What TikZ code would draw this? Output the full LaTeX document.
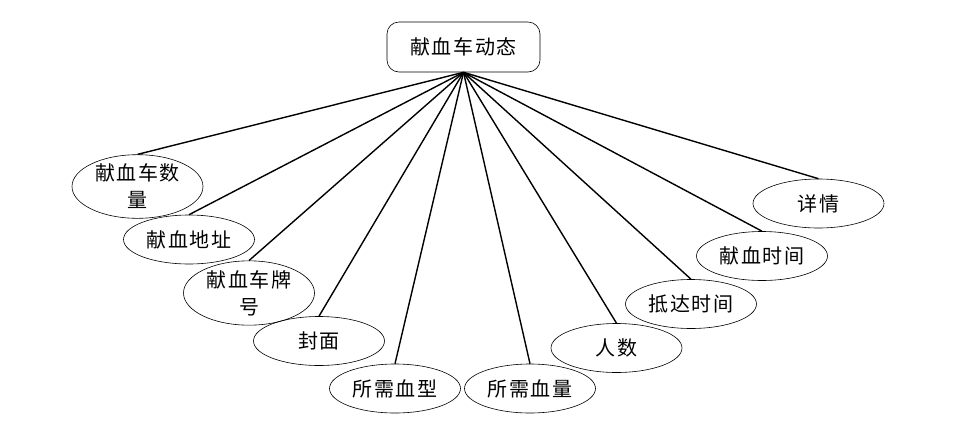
\documentclass[tikz,border=0pt]{standalone}
\usepackage{fontspec}
\newfontfamily\cjk{Noto Sans CJK SC}[LetterSpace=8]
\usetikzlibrary{shapes.geometric}

\begin{document}
\begin{tikzpicture}[x=1pt,y=-1pt,
    topbox/.style={draw,rounded corners=12pt,minimum width=153pt,minimum height=50pt,
        line width=0.6pt,font=\cjk\fontsize{20}{27}\selectfont},
    attr/.style={ellipse,draw,minimum width=131pt,minimum height=49pt,inner sep=0pt,
        line width=0.6pt,align=center,font=\cjk\fontsize{20}{27}\selectfont},
    link/.style={line width=1.4pt}]
                    \useasboundingbox (0,0) rectangle (954,440);

                    \node[topbox] (dongtai) at (463.5,47) {献血车动态};

                    \node[attr] (shuliang) at (137.5,186.5) {献血车数\\量};
                    \node[attr] (dizhi) at (189,239.5) {献血地址};
                    \node[attr] (paihao) at (249,293) {献血车牌\\号};
                    \node[attr] (fengmian) at (319,341) {封面};
                    \node[attr] (xuexing) at (395,388.5) {所需血型};
                    \node[attr] (xueliang) at (530,388.5) {所需血量};
                    \node[attr] (renshu) at (616.5,348) {人数};
                    \node[attr] (dida) at (691,304) {抵达时间};
                    \node[attr] (xianxue) at (762,256) {献血时间};
                    \node[attr] (xiangqing) at (818.5,203.5) {详情};

                    \foreach \n in {shuliang,dizhi,paihao,fengmian,xuexing,
                        xueliang,renshu,dida,xianxue,xiangqing}
                        \draw[link] (dongtai.south) -- (\n.north);
                \end{tikzpicture}
\end{document}
